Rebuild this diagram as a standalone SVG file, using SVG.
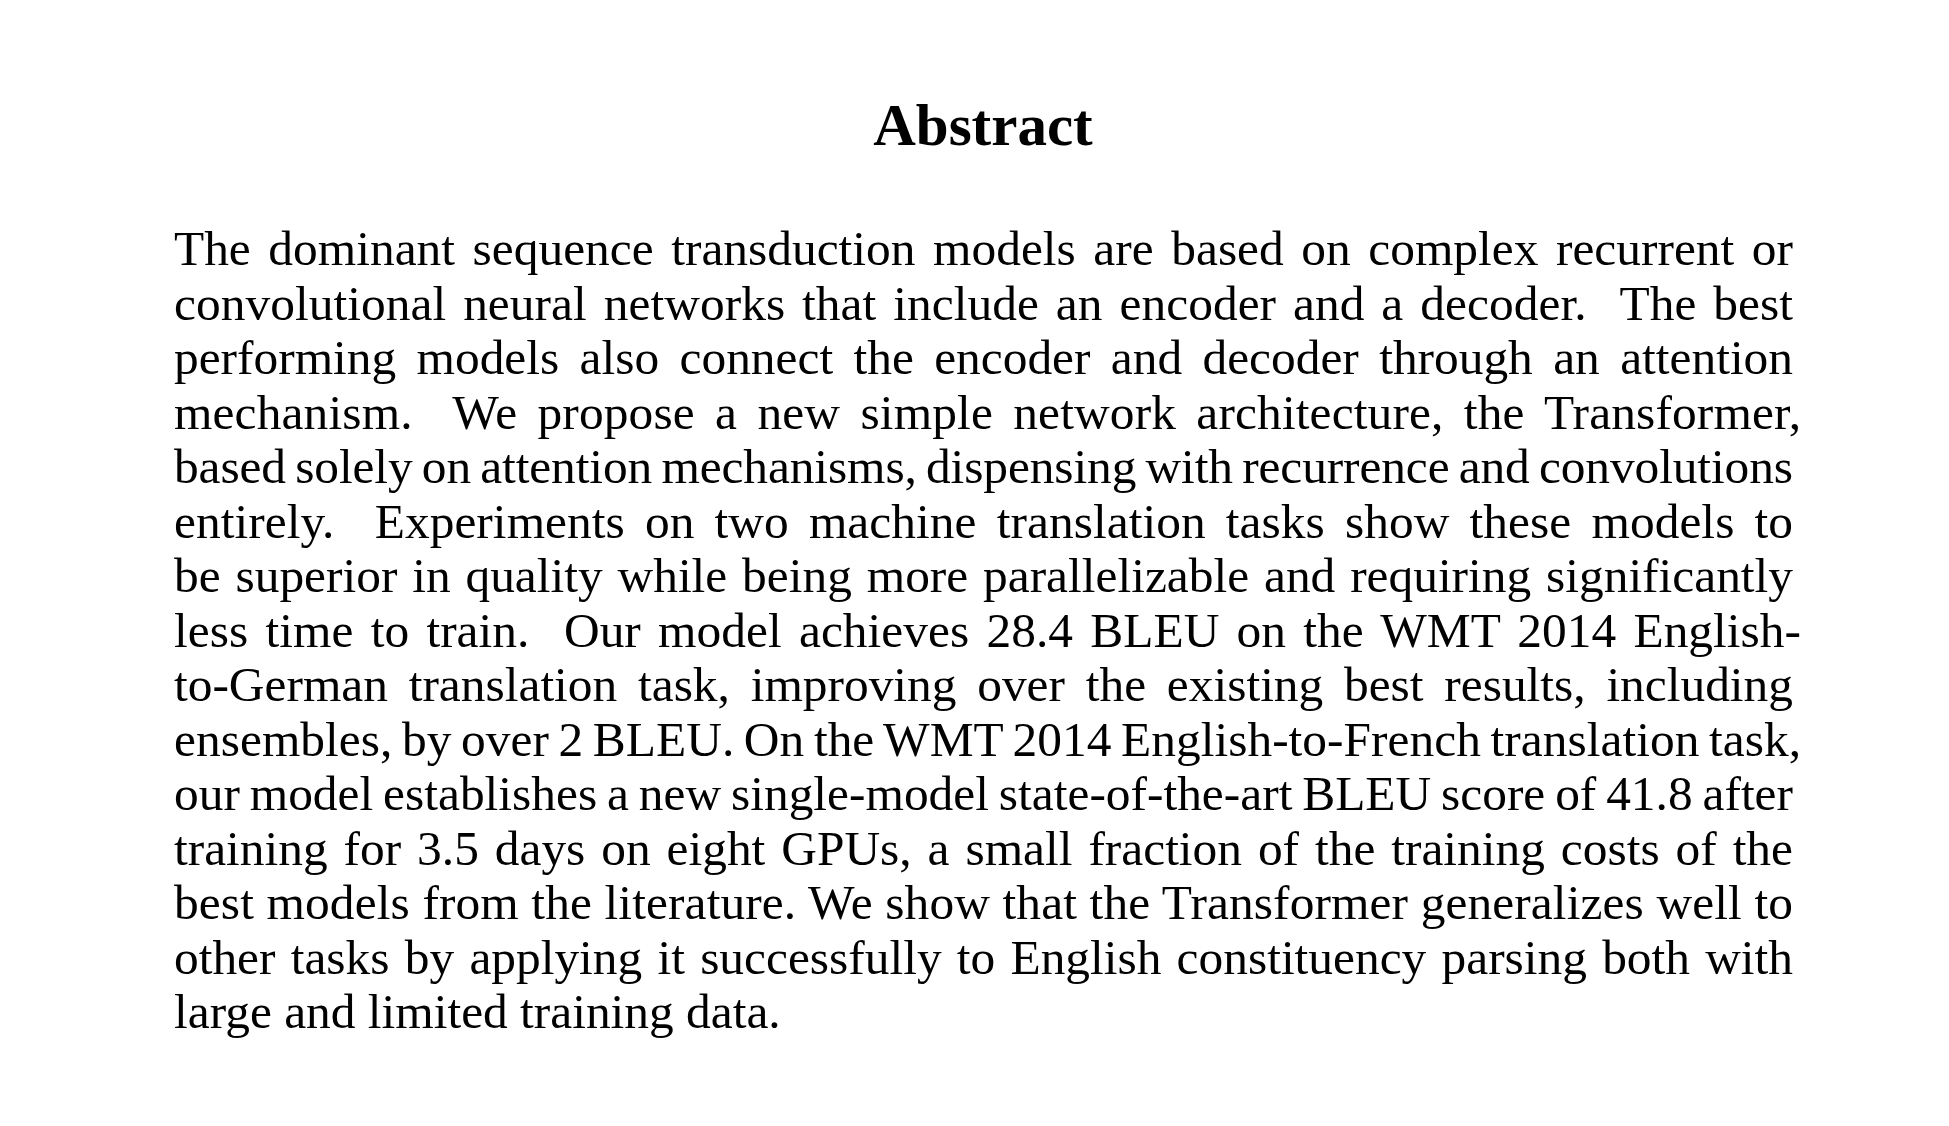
<svg xmlns="http://www.w3.org/2000/svg" width="1949" height="1126" viewBox="0 0 1949 1126" xml:space="preserve">
<style>
  .t { font-family: "Liberation Serif", "Times New Roman", serif; fill: #000; white-space: pre; }
  .title { font-size: 59px; font-weight: bold; text-anchor: middle; }
  .body { font-size: 49.4px; }
</style>
<rect x="0" y="0" width="1949" height="1126" fill="#ffffff"/>
<g id="title">
  <text class="t title" x="983" y="145">Abstract</text>
</g>
<g id="abstract-body">
  <text class="t body" x="174" y="265" style="word-spacing:5.2px" textLength="1619" lengthAdjust="spacing">The dominant sequence transduction models are based on complex recurrent or</text>
  <text class="t body" x="174" y="319.5" style="word-spacing:4.5px" textLength="1619" lengthAdjust="spacing">convolutional neural networks that include an encoder and a decoder.  The best</text>
  <text class="t body" x="174" y="374" style="word-spacing:8px" textLength="1619" lengthAdjust="spacing">performing models also connect the encoder and decoder through an attention</text>
  <text class="t body" x="174" y="428.5" style="word-spacing:7.8px" textLength="1627" lengthAdjust="spacing">mechanism.  We propose a new simple network architecture, the Transformer,</text>
  <text class="t body" x="174" y="483" style="word-spacing:-3px" textLength="1619" lengthAdjust="spacing">based solely on attention mechanisms, dispensing with recurrence and convolutions</text>
  <text class="t body" x="174" y="537.5" style="word-spacing:7.7px" textLength="1619" lengthAdjust="spacing">entirely.  Experiments on two machine translation tasks show these models to</text>
  <text class="t body" x="174" y="592" style="word-spacing:2.5px" textLength="1619" lengthAdjust="spacing">be superior in quality while being more parallelizable and requiring significantly</text>
  <text class="t body" x="174" y="646.5" style="word-spacing:4.9px" textLength="1627" lengthAdjust="spacing">less time to train.  Our model achieves 28.4 BLEU on the WMT 2014 English-</text>
  <text class="t body" x="174" y="701" style="word-spacing:8.4px" textLength="1619" lengthAdjust="spacing">to-German translation task, improving over the existing best results, including</text>
  <text class="t body" x="174" y="755.5" style="word-spacing:-2.8px" textLength="1627" lengthAdjust="spacing">ensembles, by over 2 BLEU. On the WMT 2014 English-to-French translation task,</text>
  <text class="t body" x="174" y="810" style="word-spacing:-2.5px" textLength="1619" lengthAdjust="spacing">our model establishes a new single-model state-of-the-art BLEU score of 41.8 after</text>
  <text class="t body" x="174" y="864.5" style="word-spacing:3.6px" textLength="1619" lengthAdjust="spacing">training for 3.5 days on eight GPUs, a small fraction of the training costs of the</text>
  <text class="t body" x="174" y="919" style="word-spacing:0.1px" textLength="1619" lengthAdjust="spacing">best models from the literature. We show that the Transformer generalizes well to</text>
  <text class="t body" x="174" y="973.5" style="word-spacing:2.9px" textLength="1619" lengthAdjust="spacing">other tasks by applying it successfully to English constituency parsing both with</text>
  <text class="t body" x="174" y="1028">large and limited training data.</text>
</g>
</svg>
